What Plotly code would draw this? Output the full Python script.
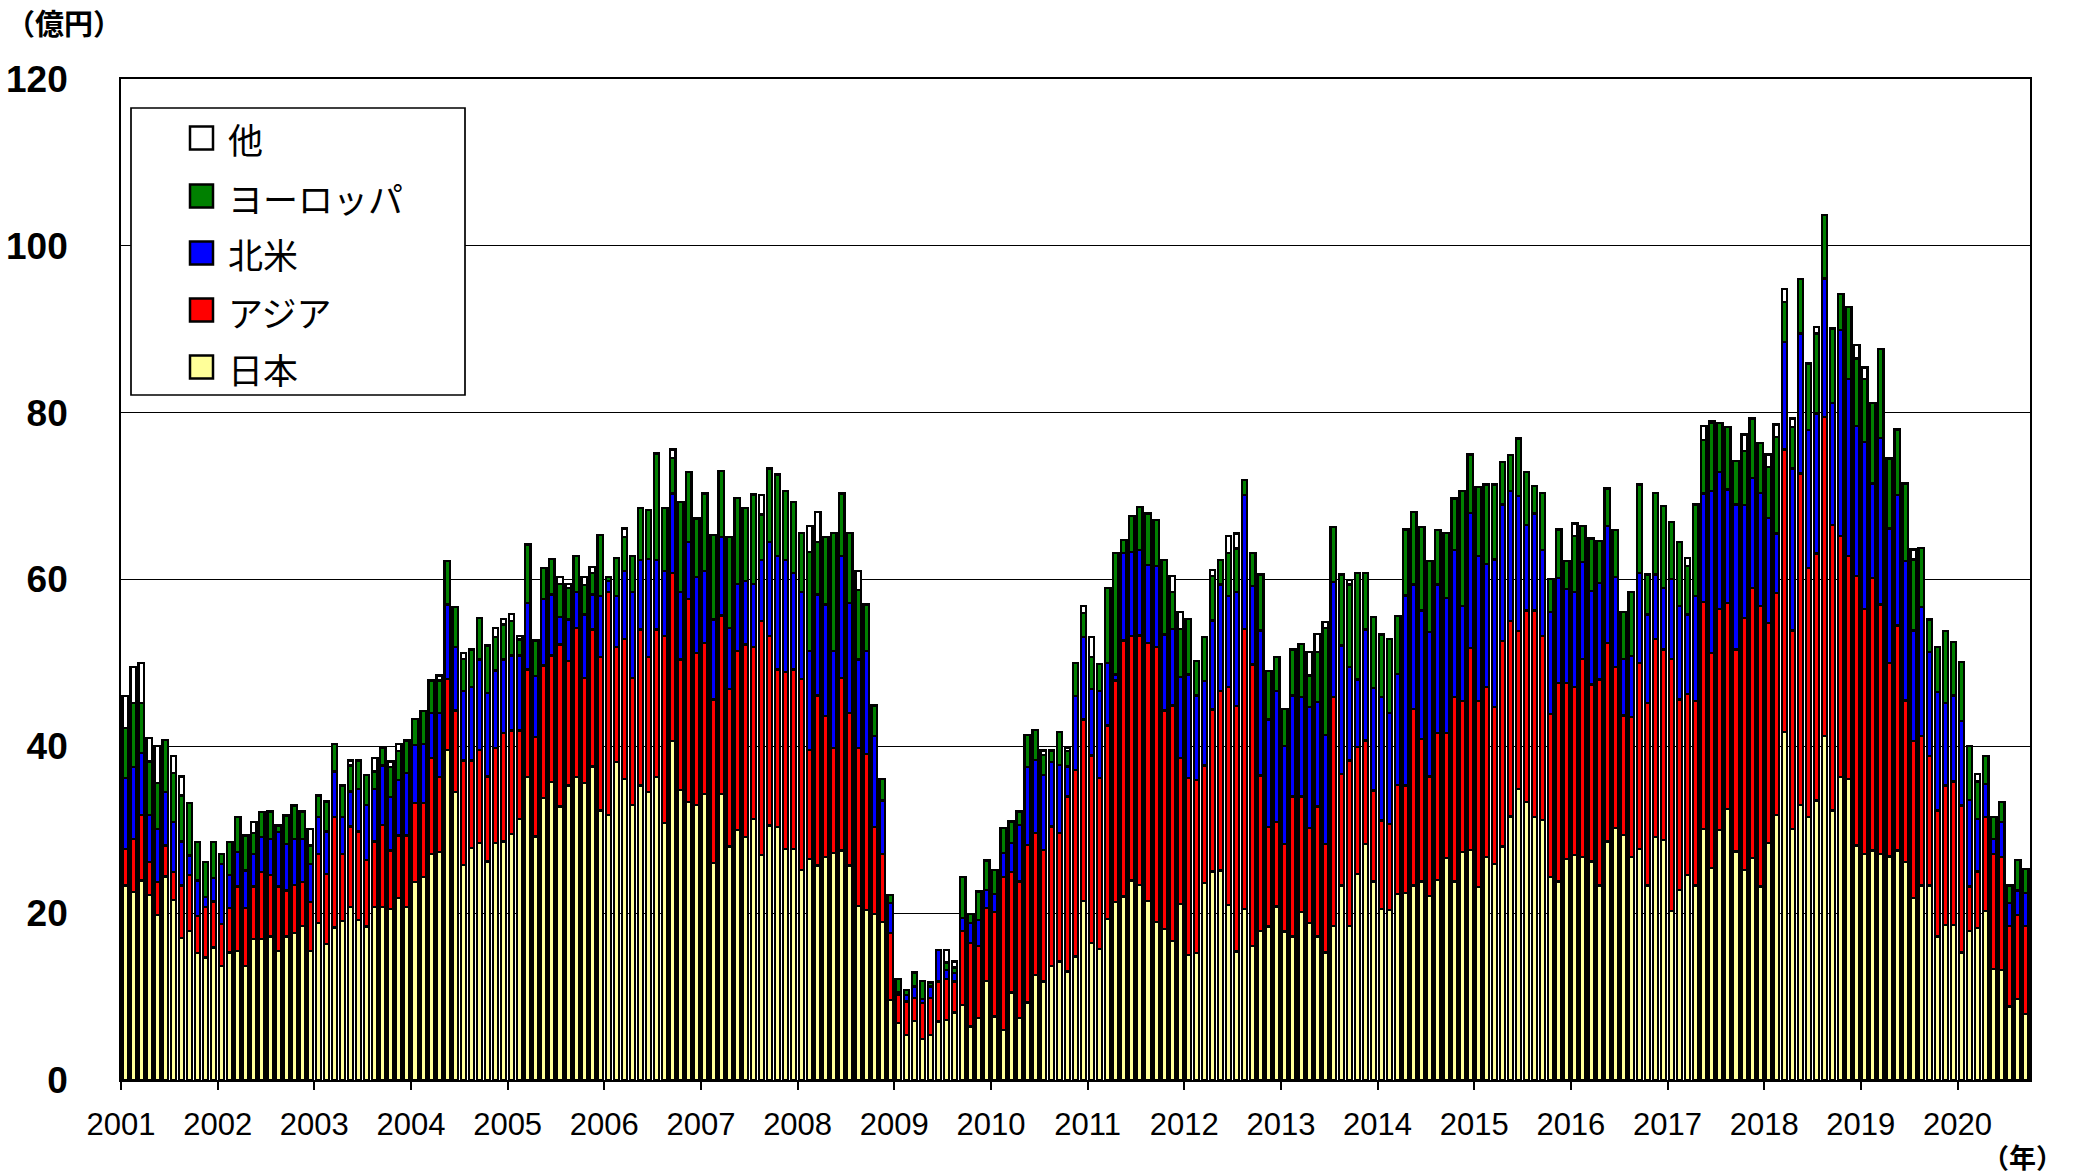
import numpy as np
import pandas as pd
import plotly.graph_objects as go

# ---------------- data (億円, monthly 2001-01 .. 2020-09) ----------------
months = pd.date_range("2001-01-01", "2020-09-01", freq="MS")
year_labels = [str(y) for y in range(2001, 2021)]

japan = [
    23.3, 22.5, 23.9, 22.2, 19.8, 24.4, 21.6, 17.0, 17.9, 15.2, 14.7, 15.9,
    13.7, 15.3, 15.5, 13.7, 16.9, 16.9, 17.2, 15.5, 17.2, 17.6, 18.5, 15.5,
    18.8, 16.3, 18.3, 19.1, 20.7, 19.2, 18.4, 20.7, 20.7, 20.5, 21.8, 20.7,
    23.7, 24.3, 27.1, 27.3, 39.6, 34.5, 25.8, 27.8, 28.4, 26.2, 28.4, 28.6,
    29.5, 31.3, 36.3, 29.2, 33.8, 35.7, 32.8, 35.3, 36.3, 35.6, 37.6, 32.3,
    31.8, 38.1, 36.1, 33.0, 35.3, 34.5, 36.3, 30.8, 40.6, 34.8, 33.3, 33.0,
    34.3, 26.0, 34.3, 28.0, 30.0, 29.1, 31.3, 27.0, 30.5, 30.3, 27.7, 27.7,
    25.2, 26.5, 25.7, 26.7, 27.2, 27.5, 25.7, 20.9, 20.4, 19.9, 18.9, 9.6,
    6.8, 5.4, 7.1, 4.9, 5.4, 7.0, 7.2, 8.1, 9.0, 6.4, 7.4, 11.9,
    7.6, 6.0, 10.5, 7.4, 9.3, 12.6, 11.8, 13.7, 14.2, 13.0, 14.8, 21.5,
    16.4, 15.7, 19.3, 21.3, 22.0, 23.9, 23.4, 21.5, 18.9, 18.1, 16.7, 21.1,
    15.0, 15.2, 23.6, 25.0, 25.1, 21.0, 15.4, 20.5, 16.1, 17.9, 18.4, 20.8,
    17.8, 17.2, 20.1, 18.8, 17.2, 15.3, 18.5, 23.3, 18.5, 24.7, 28.3, 23.8,
    20.5, 20.4, 22.3, 22.4, 23.3, 23.8, 22.1, 24.0, 26.6, 23.8, 27.3, 27.6,
    23.1, 26.7, 25.9, 28.0, 31.6, 34.9, 33.3, 31.5, 31.2, 24.3, 23.8, 26.5,
    27.0, 26.7, 26.2, 23.3, 28.6, 30.2, 29.4, 26.7, 27.7, 23.3, 29.1, 28.8,
    20.3, 22.8, 24.6, 23.3, 30.1, 25.4, 30.0, 32.5, 27.4, 25.2, 26.6, 23.2,
    28.4, 31.8, 41.7, 30.1, 33.0, 31.5, 33.5, 41.2, 32.3, 36.3, 36.1, 28.1,
    27.1, 27.5, 27.1, 26.8, 27.5, 26.1, 21.8, 23.3, 23.3, 17.2, 18.6, 18.6,
    15.3, 17.9, 18.2, 20.3, 13.3, 13.2, 8.8, 9.7, 7.9,
]

asia = [
    4.4, 6.4, 7.9, 3.9, 3.9, 3.7, 3.3, 6.3, 6.7, 4.5, 6.0, 5.5,
    5.0, 5.3, 7.7, 6.9, 6.3, 8.0, 7.4, 7.7, 5.5, 5.8, 5.2, 5.8,
    8.3, 8.4, 13.2, 8.0, 9.7, 10.6, 8.0, 7.9, 9.9, 7.0, 7.5, 8.6,
    9.5, 8.9, 11.5, 9.0, 8.5, 9.8, 12.5, 10.5, 11.2, 10.2, 11.4, 13.0,
    12.4, 10.6, 12.9, 11.9, 15.9, 15.2, 19.4, 14.9, 17.9, 12.6, 16.4, 18.4,
    26.7, 13.8, 16.8, 15.2, 18.7, 16.2, 17.7, 22.4, 20.2, 15.6, 24.4, 18.2,
    18.1, 19.6, 21.4, 18.9, 21.4, 23.1, 20.6, 28.0, 22.7, 18.9, 21.2, 21.5,
    22.9, 13.1, 20.4, 16.9, 12.6, 20.7, 18.3, 18.9, 18.7, 10.4, 8.2, 8.0,
    3.4, 4.0, 2.7, 4.3, 4.4, 4.8, 4.9, 3.7, 8.9, 10.0, 8.7, 8.7,
    12.5, 18.3, 14.4, 16.4, 18.9, 17.0, 15.8, 16.7, 15.4, 21.0, 22.4, 21.7,
    22.5, 20.5, 23.2, 26.6, 30.7, 29.3, 29.9, 30.9, 33.0, 26.2, 28.2, 17.5,
    21.2, 20.8, 14.1, 19.4, 21.5, 26.1, 29.4, 33.6, 33.7, 18.6, 11.9, 10.1,
    10.5, 16.8, 13.9, 11.4, 15.6, 13.0, 27.4, 13.4, 19.8, 15.2, 12.4, 10.9,
    10.6, 10.3, 13.1, 12.9, 21.2, 17.1, 14.3, 17.6, 15.0, 22.1, 18.1, 24.2,
    22.3, 20.4, 18.8, 24.6, 23.4, 18.9, 23.0, 24.8, 22.0, 19.6, 23.8, 21.1,
    20.1, 23.8, 21.2, 24.7, 23.8, 19.3, 14.3, 16.8, 22.3, 21.9, 23.8, 22.8,
    30.2, 22.8, 21.7, 22.1, 27.2, 25.8, 26.5, 24.7, 24.2, 30.2, 32.4, 33.6,
    26.4, 26.6, 33.9, 23.8, 39.7, 29.9, 29.6, 38.3, 34.2, 28.9, 26.7, 32.3,
    29.4, 32.7, 29.9, 23.2, 27.0, 19.4, 18.8, 17.9, 15.5, 15.1, 16.7, 17.2,
    17.6, 5.3, 6.8, 11.2, 13.8, 13.5, 9.7, 10.1, 10.6,
]

north_america = [
    8.5, 8.6, 7.4, 5.7, 6.4, 6.4, 6.0, 5.3, 2.3, 4.2, 1.2, 2.8,
    7.2, 4.0, 4.1, 4.5, 3.9, 4.2, 4.3, 6.5, 5.6, 5.5, 5.2, 4.6,
    4.4, 5.1, 5.5, 4.4, 4.2, 5.1, 6.6, 6.3, 7.1, 6.4, 6.7, 7.5,
    7.0, 7.1, 5.4, 7.7, 8.9, 7.6, 8.3, 8.8, 10.8, 10.0, 9.3, 8.8,
    9.0, 9.0, 8.0, 7.3, 8.0, 7.3, 3.3, 5.0, 4.3, 7.6, 4.2, 7.3,
    1.3, 6.1, 8.1, 10.3, 8.3, 11.8, 8.3, 7.8, 9.5, 8.1, 6.8, 9.1,
    8.6, 9.6, 9.4, 7.3, 8.1, 7.6, 7.6, 7.3, 11.3, 13.6, 13.4, 11.6,
    10.4, 11.8, 12.1, 13.4, 11.6, 14.6, 13.2, 10.6, 12.3, 10.9, 6.4, 3.6,
    0.3, 0.8, 1.4, 0.5, 1.4, 3.8, 1.1, 1.0, 1.5, 2.4, 3.1, 2.2,
    2.2, 2.9, 3.5, 6.8, 9.3, 8.8, 9.0, 7.7, 8.2, 3.6, 8.8, 9.9,
    8.0, 10.4, 7.5, 0.7, 10.5, 10.1, 10.2, 9.3, 9.7, 9.1, 9.2, 9.7,
    12.4, 10.1, 10.1, 10.7, 12.8, 10.9, 13.7, 16.0, 9.4, 17.4, 12.9, 15.7,
    11.7, 12.1, 11.9, 14.5, 12.5, 13.1, 13.8, 15.4, 11.2, 8.1, 13.3, 12.3,
    14.8, 13.3, 13.3, 22.8, 14.9, 15.4, 17.3, 17.8, 16.2, 17.6, 11.4, 16.2,
    17.4, 14.8, 17.7, 16.4, 15.6, 16.2, 10.2, 11.6, 10.3, 12.2, 12.6, 11.3,
    11.4, 11.6, 11.2, 11.6, 14.0, 10.8, 6.8, 7.3, 10.8, 10.6, 7.7, 7.4,
    9.6, 11.2, 9.5, 12.6, 13.0, 19.4, 16.4, 13.6, 17.4, 13.5, 13.2, 13.6,
    12.6, 7.1, 12.9, 19.4, 16.8, 16.5, 16.8, 16.6, 14.7, 24.7, 21.2, 18.0,
    20.0, 11.3, 20.0, 16.1, 15.6, 16.7, 13.3, 15.5, 12.5, 14.2, 9.9, 10.3,
    10.1, 10.4, 6.3, 4.0, 1.8, 4.2, 2.7, 2.9, 3.9,
]

europe = [
    6.0, 7.7, 6.0, 6.4, 5.5, 6.3, 5.9, 5.5, 6.3, 4.6, 4.2, 4.3,
    1.2, 3.9, 4.2, 4.2, 2.5, 3.0, 3.3, 0.8, 3.4, 4.0, 3.3, 2.2,
    2.6, 3.6, 3.3, 3.8, 3.1, 3.4, 3.6, 2.1, 2.1, 3.6, 3.4, 3.9,
    3.1, 3.9, 3.9, 3.9, 5.2, 4.8, 3.9, 4.5, 5.0, 5.7, 4.0, 4.2,
    4.1, 1.9, 7.0, 4.3, 3.7, 4.3, 4.0, 3.8, 4.3, 3.5, 2.6, 7.3,
    0.5, 4.6, 4.1, 4.3, 6.3, 5.8, 12.8, 7.6, 4.3, 10.8, 8.4, 7.0,
    9.3, 10.1, 7.9, 10.9, 10.3, 8.8, 10.7, 5.5, 8.8, 9.8, 8.3, 8.5,
    7.1, 11.9, 6.3, 8.1, 14.2, 7.5, 8.4, 8.3, 5.6, 3.7, 2.6, 1.0,
    1.6, 0.6, 1.7, 2.2, 0.5, 0.0, 0.9, 0.7, 4.9, 1.1, 3.4, 3.5,
    2.9, 3.0, 2.6, 1.6, 3.9, 3.6, 2.4, 1.4, 3.9, 1.8, 4.0, 2.9,
    3.8, 3.3, 9.0, 14.6, 1.5, 4.3, 5.2, 6.2, 5.5, 8.9, 4.4, 5.8,
    6.7, 4.1, 5.3, 5.3, 2.9, 5.2, 5.2, 1.8, 4.0, 6.7, 5.8, 4.1,
    4.5, 5.5, 6.4, 3.8, 6.0, 12.8, 6.6, 8.5, 9.9, 12.8, 6.8, 8.5,
    7.5, 8.9, 6.9, 7.9, 8.7, 10.0, 8.5, 6.5, 7.8, 6.2, 13.8, 7.0,
    8.3, 9.5, 9.0, 5.1, 4.3, 6.9, 6.4, 3.3, 6.9, 4.0, 5.8, 3.3,
    6.7, 4.3, 6.3, 5.0, 4.5, 5.6, 5.6, 7.7, 10.6, 4.8, 9.8, 9.8,
    6.8, 7.7, 5.8, 11.0, 6.4, 8.2, 5.9, 7.5, 5.2, 6.5, 7.1, 6.0,
    6.1, 11.6, 4.8, 5.0, 6.5, 8.0, 9.6, 7.6, 8.9, 4.3, 8.7, 8.1,
    7.5, 9.7, 10.6, 8.4, 7.9, 9.3, 8.5, 7.1, 3.9, 5.4, 8.6, 6.4,
    7.1, 6.4, 4.5, 3.3, 2.6, 2.4, 2.1, 3.7, 2.9,
]

other = [
    3.8, 4.3, 4.8, 2.8, 4.4, 0, 2.0, 2.3, 0, 0, 0, 0,
    0, 0, 0, 0, 1.3, 0, 0, 0, 0, 0, 0, 2.0,
    0, 0, 0, 0, 0.6, 0, 0, 1.6, 0, 0.7, 0.9, 0,
    0, 0, 0, 0.6, 0, 0, 0.7, 0, 0, 0, 1.1, 0.7,
    0.9, 0.4, 0, 0, 0, 0, 0.8, 0.5, 0, 1.0, 0.7, 0,
    0, 0, 1.0, 0, 0, 0, 0, 0, 1.0, 0, 0, 0,
    0, 0, 0, 0, 0, 0, 0, 2.3, 0, 0, 0, 0,
    0, 3.1, 3.6, 0, 0, 0, 0, 2.3, 0, 0, 0, 0,
    0, 0, 0, 0, 0, 0, 1.5, 0.7, 0, 0, 0, 0,
    0, 0, 0, 0, 0, 0, 0.5, 0, 0, 0.4, 0, 0.8,
    2.4, 0, 0, 0, 0, 0, 0, 0, 0, 0, 1.9, 2.0,
    0, 0, 0, 0.7, 0, 2.0, 1.8, 0, 0, 0, 0, 0,
    0, 0, 0, 2.8, 2.2, 0.7, 0, 0, 0.5, 0, 0, 0,
    0, 0, 0, 0, 0, 0, 0, 0, 0, 0, 0, 0,
    0, 0, 0, 0, 0, 0, 0, 0, 0, 0, 0, 0,
    1.5, 0, 0, 0, 0, 0, 0, 0, 0, 0, 0, 0,
    0, 0, 1.0, 0, 1.7, 0.2, 0, 0, 0, 2.0, 0, 0,
    1.5, 1.5, 1.5, 1.0, 0, 0, 0.8, 0, 0, 0, 0, 1.6,
    1.4, 0, 0, 0, 0, 0, 1.2, 0, 0, 0, 0, 0,
    0, 0, 0.9, 0, 0, 0, 0, 0, 0,
]

series = [
    ("日本", japan, "#FFFF99"),
    ("アジア", asia, "#FF0000"),
    ("北米", north_america, "#0000FF"),
    ("ヨーロッパ", europe, "#008000"),
    ("他", other, "#FFFFFF"),
]

n = len(months)
xpos = np.arange(n) + 0.5
month_txt = [m.strftime("%Y-%m") for m in months]

# ---------------- layout geometry (pixels) ----------------
W, H = 2074, 1175
PL, PR, PT, PB = 121, 2030, 79, 1080


def pxx(x):
    return (x - PL) / (PR - PL)


def pyy(y):
    return (PB - y) / (PB - PT)


fig = go.Figure()
for name, vals, col in series:
    fig.add_trace(go.Bar(
        x=xpos, y=vals, name=name, width=0.66,
        marker=dict(color=col, line=dict(color="black", width=2.3)),
        customdata=month_txt,
        hovertemplate="%{customdata} " + name + ": %{y}<extra></extra>",
        showlegend=False,
    ))

fig.update_layout(
    width=W, height=H,
    margin=dict(l=PL, r=W - PR, t=PT, b=H - PB, autoexpand=False),
    barmode="stack",
    paper_bgcolor="white", plot_bgcolor="white",
    font=dict(family="Liberation Sans, Arial, sans-serif", color="black"),
)

fig.update_xaxes(
    range=[0, n],
    tickmode="array",
    tickvals=[12 * i for i in range(len(year_labels))],
    ticktext=year_labels,
    ticks="outside", ticklen=8, tickwidth=1.5, tickcolor="black",
    tickfont=dict(family="Liberation Sans, Arial, sans-serif", size=31, color="black"),
    ticklabelstandoff=8,
    showgrid=False, zeroline=False,
    showline=True, linecolor="black", linewidth=1.7, mirror=True,
)
fig.update_yaxes(
    range=[0, 120], dtick=20, tick0=0,
    tickfont=dict(family="Liberation Sans, Arial, sans-serif", size=37,
                  color="black", weight="bold"),
    ticks="", ticklabelstandoff=44,
    showgrid=True, gridcolor="black", gridwidth=1.3,
    zeroline=False,
    showline=True, linecolor="black", linewidth=1.7, mirror=True,
)

cjk = "Noto Sans CJK JP"
annotations = [
    dict(x=pxx(64), y=pyy(22), xref="paper", yref="paper", text="<b>（億円）</b>",
         showarrow=False, font=dict(family=cjk, size=29, color="black"),
         xanchor="center", yanchor="middle"),
    dict(x=pxx(2022), y=pyy(1156), xref="paper", yref="paper", text="<b>（年）</b>",
         showarrow=False, font=dict(family=cjk, size=27, color="black"),
         xanchor="center", yanchor="middle"),
]

shapes = [
    dict(type="rect", xref="paper", yref="paper",
         x0=pxx(131), x1=pxx(465), y0=pyy(395), y1=pyy(108),
         fillcolor="white", line=dict(color="black", width=1.7), layer="above"),
]

legend_rows = [("他", "#FFFFFF", 138), ("ヨーロッパ", "#008000", 196),
               ("北米", "#0000FF", 253), ("アジア", "#FF0000", 310),
               ("日本", "#FFFF99", 367)]
for label, col, yc in legend_rows:
    shapes.append(dict(type="rect", xref="paper", yref="paper",
                       x0=pxx(190), x1=pxx(213), y0=pyy(yc + 11.5), y1=pyy(yc - 11.5),
                       fillcolor=col, line=dict(color="black", width=2.5), layer="above"))
    annotations.append(dict(x=pxx(226), y=pyy(yc + 1), xref="paper", yref="paper",
                            text=label, showarrow=False,
                            font=dict(family=cjk, size=35, color="black"),
                            xanchor="left", yanchor="middle"))

fig.update_layout(shapes=shapes, annotations=annotations)

fig.write_html(
    "out.html",
    config={"displayModeBar": False},
    post_script="document.body.style.margin='0px';document.body.style.overflow='hidden';",
)
